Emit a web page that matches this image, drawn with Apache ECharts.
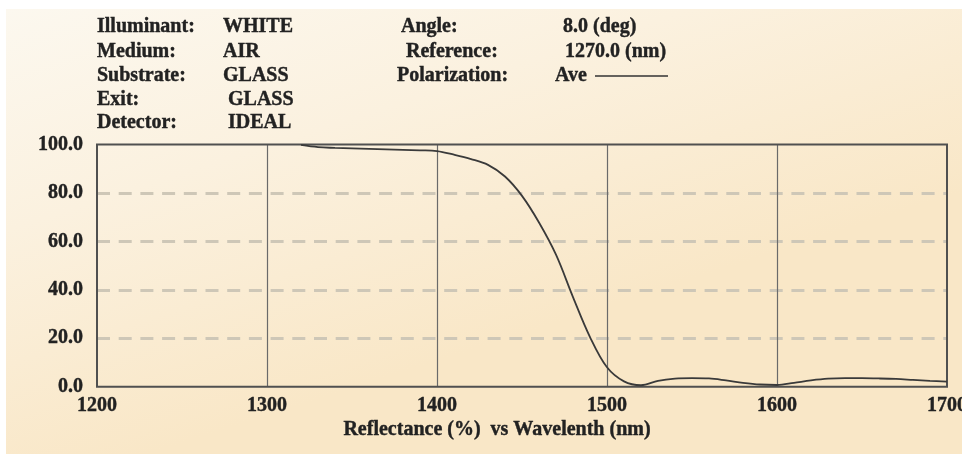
<!DOCTYPE html>
<html>
<head>
<meta charset="utf-8">
<script src="https://cdn.jsdelivr.net/npm/echarts@6/dist/echarts.min.js"></script>
<style>html,body{margin:0;padding:0;background:#fff;}#c{width:962px;height:455px;}</style>
</head>
<body>
<div id="c"></div>
<script>
var wavelengths = [1320,1330,1340,1350,1360,1370,1380,1390,1400,1410,1420,1430,1440,1450,1460,1470,1480,1490,1500,1510,1520,1530,1540,1550,1560,1570,1580,1590,1600,1610,1620,1630,1640,1650,1660,1670,1680,1690,1700];
var reflectance = [99.8,98.9,98.6,98.4,98.2,98.0,97.8,97.6,97.3,95.8,94.0,91.6,86.8,78.8,67.8,54.5,37.0,20.5,8.0,2.2,0.6,2.4,3.3,3.5,3.4,2.6,1.6,0.9,0.7,1.6,2.6,3.3,3.5,3.5,3.4,3.2,2.8,2.4,2.1];
var xTicks = [1200,1300,1400,1500,1600,1700];
var headerLeft = [["Illuminant:","WHITE"],["Medium:","AIR"],["Substrate:","GLASS"],["Exit:","GLASS"],["Detector:","IDEAL"]];
var headerRight = [["Angle:","8.0 (deg)"],["Reference:","1270.0 (nm)"],["Polarization:","Ave"]];
var xTitle = "Reflectance (%)  vs Wavelenth (nm)";

var font = "'Liberation Serif', 'Times New Roman', serif";
var txtColor = '#222222';
var chart = echarts.init(document.getElementById('c'), null, {renderer:'canvas'});

var rowsY = [27, 51.5, 75.5, 99.5, 123];
var leftLabelX = [97,97,97,97,97];
var leftValX = [223,223,223,228,228];
var rightLabelX = [401,406,397];
var rightValX = [563,565,555];

var graphics = [{
  type:'rect', z:-10, silent:true,
  shape:{x:6,y:9,width:956,height:445},
  style:{fill:new echarts.graphic.LinearGradient(0,0,0.15,1,[
    {offset:0,color:'#fcf8ef'},{offset:0.45,color:'#fbf1df'},{offset:1,color:'#f9e7c7'}])}
}];
function addText(x,y,t,align){
  graphics.push({type:'text',x:x,y:y,silent:true,style:{text:t,fill:txtColor,font:'bold 20px '+font,textAlign:align||'left',textVerticalAlign:'middle',stroke:txtColor,lineWidth:0.4}});
}
headerLeft.forEach(function(r,i){addText(leftLabelX[i],rowsY[i],r[0]);addText(leftValX[i],rowsY[i],r[1]);});
headerRight.forEach(function(r,i){addText(rightLabelX[i],rowsY[i],r[0]);addText(rightValX[i],rowsY[i],r[1]);});
graphics.push({type:'line',silent:true,shape:{x1:595,y1:76,x2:668,y2:76},style:{stroke:'#333',lineWidth:1.5}});
addText(497,430,xTitle,'center');

chart.setOption({
  backgroundColor:'#ffffff',
  animation:false,
  graphic:graphics,
  grid:{left:97,right:15,top:144.5,bottom:68.3,containLabel:false,outerBoundsMode:'none',show:true,borderColor:'#505050',borderWidth:2,backgroundColor:'transparent',z:3},
  xAxis:{type:'value',min:xTicks[0],max:xTicks[xTicks.length-1],interval:100,
    axisLine:{show:false},axisTick:{show:false},
    axisLabel:{color:txtColor,fontFamily:font,fontWeight:'bold',fontSize:20,margin:9,textBorderColor:txtColor,textBorderWidth:0.4,formatter:function(v){return String(v);}},
    splitLine:{show:true,showMinLine:false,showMaxLine:false,lineStyle:{color:'#6a6a6a',width:1.2}}},
  yAxis:{type:'value',min:0,max:100,interval:20,
    axisLine:{show:false},axisTick:{show:false},
    axisLabel:{color:txtColor,fontFamily:font,fontWeight:'bold',fontSize:20,margin:14,textBorderColor:txtColor,textBorderWidth:0.4,formatter:function(v){return v.toFixed(1);}},
    splitLine:{show:true,showMinLine:false,showMaxLine:false,lineStyle:{color:'#cec7b7',width:3,type:[13,8.7]}}},
  series:[{type:'line',data:wavelengths.map(function(w,i){return [w,reflectance[i]];}),
    smooth:0.35,symbol:'none',lineStyle:{color:'#3a3a3a',width:1.8},z:4}]
});
</script>
</body>
</html>
